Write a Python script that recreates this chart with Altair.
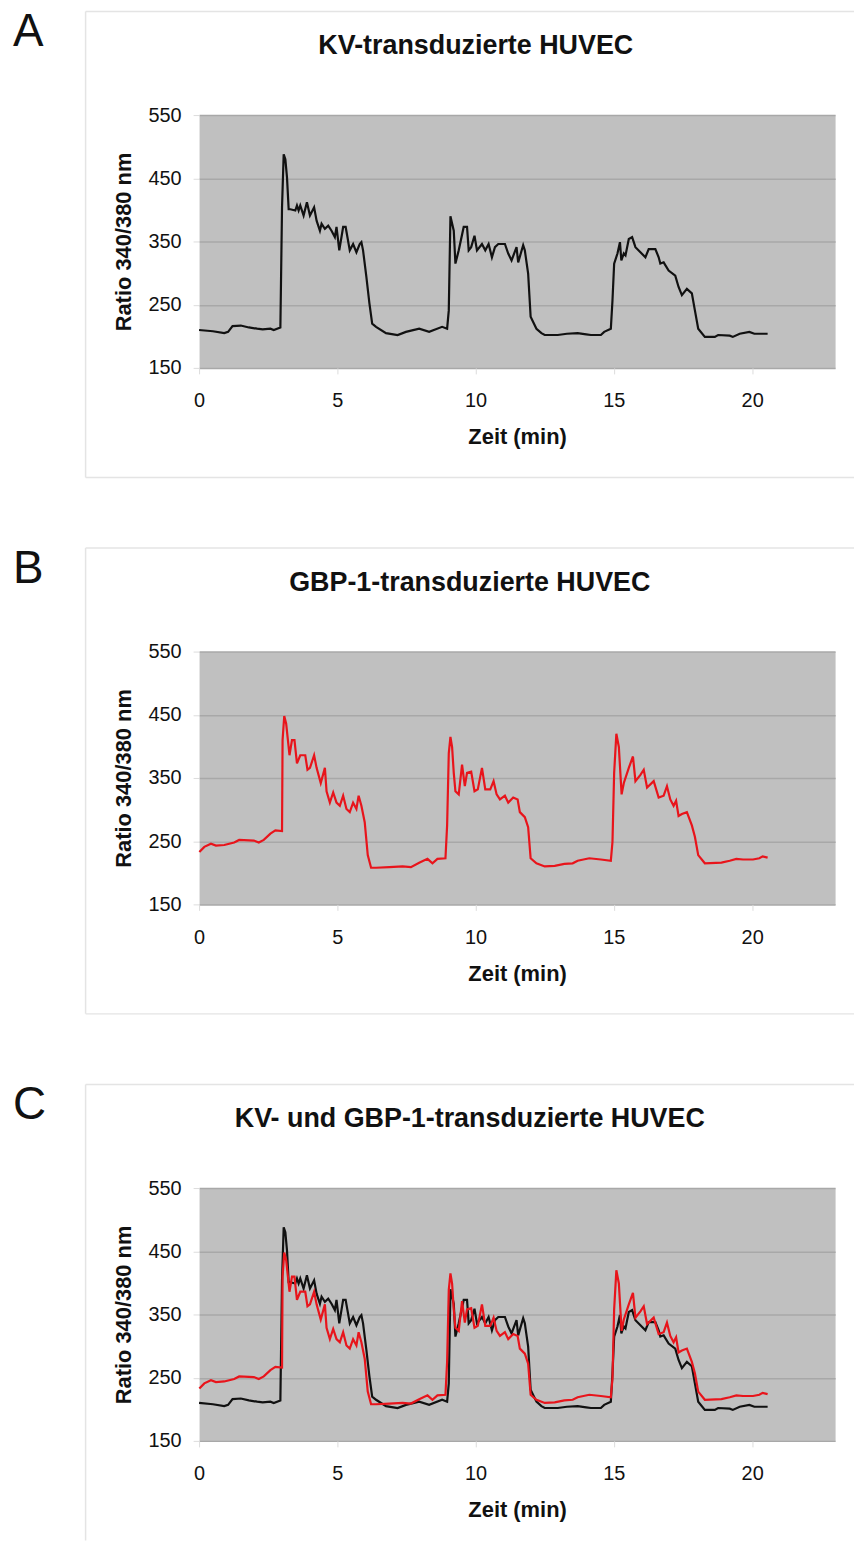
import altair as alt
import pandas as pd

# ---- data (time in min, ratio 340/380) ----
kv_time = [0, 0.5, 0.91, 1.05, 1.21, 1.51, 1.8, 2.1, 2.3, 2.58,
           2.7, 2.94, 3.0, 3.06, 3.12, 3.18, 3.24, 3.30, 3.48, 3.54,
           3.60, 3.66, 3.78, 3.90, 4.01, 4.16, 4.25, 4.37, 4.43, 4.55,
           4.67, 4.79, 4.91, 4.97, 5.07, 5.21, 5.30, 5.45, 5.57, 5.69,
           5.81, 5.87, 5.93, 6.05, 6.16, 6.26, 6.40, 6.76, 7.18, 7.48,
           7.96, 8.32, 8.79, 8.97, 9.03, 9.09, 9.21, 9.27, 9.39, 9.57,
           9.69, 9.75, 9.84, 9.96, 10.05, 10.23, 10.35, 10.47, 10.59, 10.70,
           10.82, 11.06, 11.18, 11.30, 11.48, 11.54, 11.72, 11.78, 11.90, 11.99,
           12.20, 12.38, 12.50, 12.97, 13.3, 13.69, 14.0, 14.17, 14.53, 14.65,
           14.89, 14.95, 15.01, 15.13, 15.22, 15.27, 15.36, 15.42, 15.54, 15.66,
           15.78, 15.96, 16.14, 16.26, 16.50, 16.62, 16.68, 16.80, 16.98, 17.22,
           17.34, 17.46, 17.64, 17.82, 17.93, 18.05, 18.29, 18.65, 18.77, 19.19,
           19.3, 19.55, 19.90, 20.08, 20.56]
kv_ratio = [210, 208, 205, 207, 216, 217, 214, 212, 211, 212,
            210, 214, 404, 488, 480, 451, 401, 401, 399, 407,
            399, 407, 391, 412, 391, 404, 383, 367, 378, 370,
            375, 367, 357, 373, 336, 373, 373, 336, 346, 333,
            346, 349, 336, 294, 252, 220, 215, 205, 202, 207,
            212, 207, 215, 212, 241, 390, 367, 315, 336, 373,
            373, 336, 341, 359, 336, 346, 336, 346, 325, 341,
            346, 346, 331, 320, 341, 317, 344, 336, 299, 231,
            212, 205, 202, 202, 204, 205, 203, 202, 202, 207,
            212, 257, 315, 331, 349, 320, 331, 328, 354, 357,
            341, 333, 325, 338, 338, 325, 315, 317, 304, 296,
            278, 265, 275, 268, 241, 212, 199, 199, 202, 201,
            199, 204, 207, 204, 204]

gbp_time = [0.01, 0.19, 0.43, 0.61, 0.91, 1.27, 1.45, 1.98, 2.16, 2.34,
            2.58, 2.76, 3.0, 3.02, 3.08, 3.15, 3.20, 3.27, 3.36, 3.45,
            3.54, 3.66, 3.84, 3.92, 4.01, 4.16, 4.25, 4.40, 4.55, 4.61,
            4.73, 4.85, 4.97, 5.09, 5.21, 5.33, 5.45, 5.57, 5.69, 5.77,
            5.87, 5.99, 6.10, 6.22, 6.40, 6.88, 7.36, 7.66, 7.96, 8.26,
            8.44, 8.62, 8.91, 8.97, 9.03, 9.09, 9.15, 9.21, 9.27, 9.39,
            9.51, 9.61, 9.69, 9.84, 9.96, 10.08, 10.23, 10.35, 10.53, 10.65,
            10.76, 10.88, 11.06, 11.18, 11.36, 11.52, 11.60, 11.78, 11.90, 11.99,
            12.20, 12.50, 12.86, 13.21, 13.51, 13.69, 14.11, 14.53, 14.89, 14.95,
            15.01, 15.09, 15.18, 15.28, 15.36, 15.54, 15.69, 15.78, 15.96, 16.08,
            16.20, 16.44, 16.62, 16.80, 16.92, 17.04, 17.16, 17.25, 17.34, 17.46,
            17.64, 17.82, 17.93, 18.05, 18.29, 18.89, 19.19, 19.43, 19.67, 20.03,
            20.26, 20.38, 20.56]
gbp_ratio = [233, 241, 246, 243, 244, 248, 252, 251, 248, 252,
             262, 267, 266, 410, 448, 436, 415, 386, 410, 410,
             373, 386, 386, 363, 366, 386, 366, 342, 366, 329,
             311, 327, 311, 306, 322, 301, 296, 311, 301, 322,
             306, 280, 228, 208, 208, 209, 210, 209, 216, 222,
             215, 222, 223, 275, 389, 415, 399, 358, 329, 324,
             371, 337, 358, 360, 329, 332, 366, 332, 332, 345,
             324, 316, 322, 311, 319, 316, 296, 288, 272, 223,
             215, 210, 211, 214, 215, 219, 223, 221, 219, 249,
             358, 420, 399, 324, 342, 366, 384, 345, 355, 363,
             335, 345, 319, 322, 337, 316, 306, 314, 290, 293,
             296, 275, 257, 228, 215, 216, 219, 222, 221, 221,
             223, 226, 224]

panel_letters = ["A", "B", "C"]
panel_titles = ["KV-transduzierte HUVEC",
                "GBP-1-transduzierte HUVEC",
                "KV- und GBP-1-transduzierte HUVEC"]
y_ticks = [150, 250, 350, 450, 550]
x_ticks = [0, 5, 10, 15, 20]

kv = pd.DataFrame({"t": kv_time, "v": kv_ratio})
gbp = pd.DataFrame({"t": gbp_time, "v": gbp_ratio})

W, H = 639, 254
FONT = "Liberation Sans"
BOX = "#e4e4e4"
TXT = "#111111"

x_enc = alt.X("t:Q", scale=alt.Scale(domain=[0, 23], nice=False, zero=False),
              axis=alt.Axis(values=x_ticks, title="Zeit (min)", grid=False, domain=False,
                            tickSize=6, tickColor="#dcdcdc", labelPadding=17,
                            titlePadding=16, labelFlush=False, format="d"))
y_enc = alt.Y("v:Q", scale=alt.Scale(domain=[150, 550], nice=False, zero=False),
              axis=alt.Axis(values=y_ticks, title="Ratio 340/380 nm", grid=True,
                            gridColor="#a8a8a8", gridWidth=1.5, domain=False,
                            tickSize=6, tickColor="#dcdcdc", labelPadding=12,
                            titlePadding=13, format="d"))


def panel(i, series, title_x, bottom=True):
    dummy = pd.DataFrame({"k": [0]})
    layers = []
    layers.append(alt.Chart(dummy).mark_rule(color=BOX, strokeWidth=1.5).encode(
        x=alt.value(-114), x2=alt.value(658), y=alt.value(-104)))
    layers.append(alt.Chart(dummy).mark_rule(color=BOX, strokeWidth=1.5).encode(
        x=alt.value(-114), y=alt.value(-104), y2=alt.value(H + (110 if bottom else 100))))
    if bottom:
        layers.append(alt.Chart(dummy).mark_rule(color=BOX, strokeWidth=1.5).encode(
            x=alt.value(-114), x2=alt.value(658), y=alt.value(H + 110)))
    layers.append(alt.Chart(dummy).mark_text(
        text=panel_letters[i], font=FONT, fontSize=46, align="left",
        baseline="alphabetic", color=TXT).encode(x=alt.value(-187), y=alt.value(-69)))
    layers.append(alt.Chart(dummy).mark_text(
        text=panel_titles[i], font=FONT, fontSize=27, fontWeight="bold", align="center",
        baseline="alphabetic", color=TXT).encode(x=alt.value(title_x), y=alt.value(-61)))
    for df, color in series:
        layers.append(alt.Chart(df).mark_line(color=color, strokeWidth=2.2).encode(
            x=x_enc, y=y_enc, order="t:Q"))
    return alt.layer(*layers).properties(width=W, height=H)


pA = panel(0, [(kv, "#111111")], 278)
pB = panel(1, [(gbp, "#e8141b")], 272)
pC = panel(2, [(kv, "#111111"), (gbp, "#e8141b")], 272, bottom=False)

chart = alt.vconcat(pA, pB, pC, spacing=66).properties(
    padding={"left": 12, "top": 5, "right": 0, "bottom": 0}
).configure_axis(
    labelFont=FONT, titleFont=FONT, labelFontSize=20, titleFontSize=22,
    titleFontWeight="bold", labelColor=TXT, titleColor=TXT
).configure_view(fill="#c0c0c0", stroke="transparent")

chart.save("out.html", embed_options={"renderer": "svg", "actions": False})
